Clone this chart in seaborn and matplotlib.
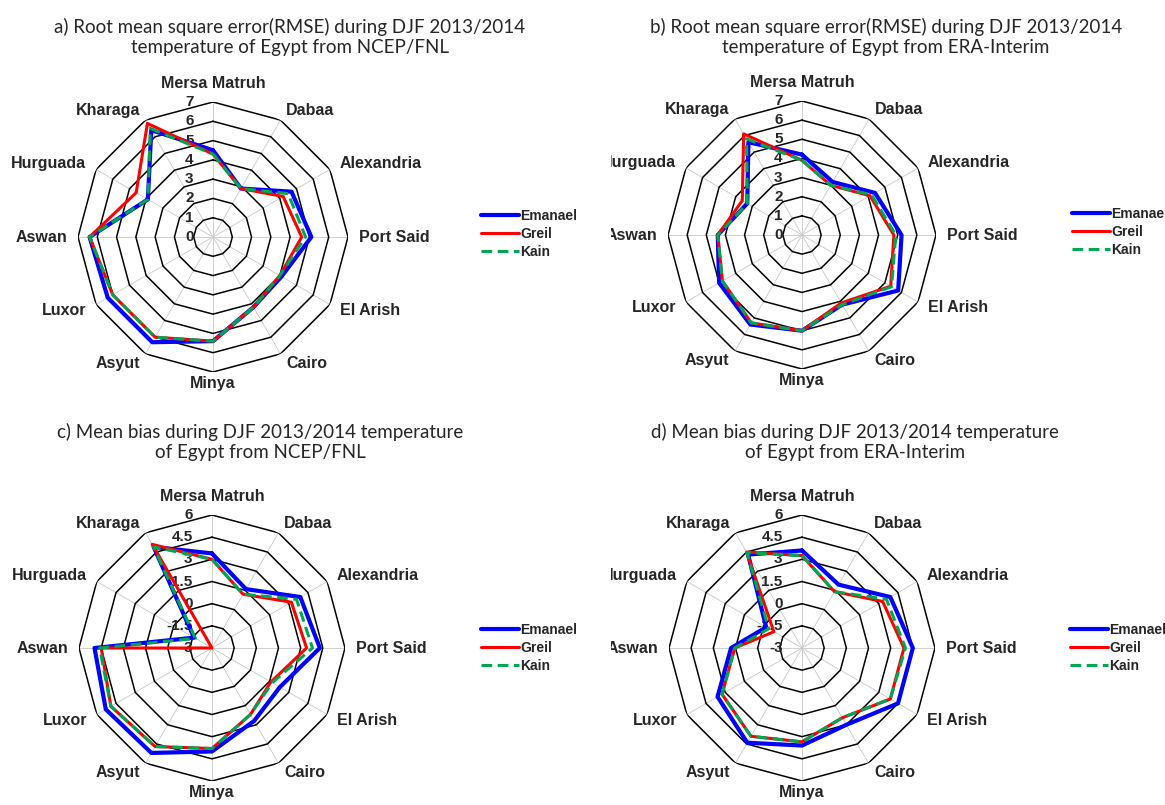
import numpy as np
import pandas as pd
import matplotlib
matplotlib.use('Agg')
import matplotlib.pyplot as plt
from matplotlib.transforms import offset_copy, Bbox, TransformedBbox
from matplotlib.lines import Line2D
import seaborn as sns

# stations, clockwise from the top
stations = ['Mersa Matruh', 'Dabaa', 'Alexandria', 'Port Said', 'El Arish', 'Cairo',
            'Minya', 'Asyut', 'Luxor', 'Aswan', 'Hurguada', 'Kharaga']
models = ['Emanael', 'Greil', 'Kain']

# a) RMSE from NCEP/FNL
rmse_fnl_emanael = [4.5, 2.9, 4.7, 5.1, 4.1, 4.2, 5.4, 6.3, 6.3, 6.4, 3.9, 6.4]
rmse_fnl_greil = [4.3, 2.9, 4.2, 4.6, 4.0, 4.2, 5.4, 6.0, 6.0, 6.4, 4.6, 6.8]
rmse_fnl_kain = [4.3, 2.9, 4.5, 4.8, 4.0, 4.2, 5.4, 6.0, 6.0, 6.4, 3.9, 6.5]

# b) RMSE from ERA-Interim
rmse_era_emanael = [4.2, 3.2, 4.4, 5.2, 5.8, 4.2, 5.0, 5.4, 5.0, 4.4, 3.3, 5.6]
rmse_era_greil = [3.9, 3.0, 4.1, 4.8, 5.35, 4.1, 5.0, 5.3, 4.8, 4.4, 3.6, 6.1]
rmse_era_kain = [3.9, 3.0, 4.2, 4.9, 5.4, 4.2, 5.0, 5.3, 4.8, 4.4, 3.3, 5.8]

# c) mean bias from NCEP/FNL
bias_fnl_emanael = [3.4, 1.6, 3.9, 4.3, 2.3, 2.7, 4.0, 5.2, 5.3, 4.95, -1.6, 4.9]
bias_fnl_greil = [3.0, 1.2, 3.2, 3.4, 1.6, 2.2, 3.8, 4.7, 4.9, 4.5, -3.0, 5.1]
bias_fnl_kain = [3.0, 1.2, 3.6, 3.8, 1.7, 2.2, 3.8, 4.7, 4.9, 4.6, -1.7, 4.9]

# d) mean bias from ERA-Interim
bias_era_emanael = [3.6, 1.95, 3.9, 4.5, 4.5, 3.0, 3.6, 4.4, 3.6, 1.8, -0.2, 4.3]
bias_era_greil = [3.25, 1.4, 3.3, 3.9, 3.9, 2.45, 3.35, 3.9, 3.25, 1.55, -0.8, 4.5]
bias_era_kain = [3.25, 1.4, 3.6, 4.0, 3.9, 2.45, 3.35, 3.9, 3.25, 1.55, -0.4, 4.45]

rmse_ticks = [0, 1, 2, 3, 4, 5, 6, 7]
rmse_labels = ['0', '1', '2', '3', '4', '5', '6', '7']
bias_ticks = [-3, -1.5, 0, 1.5, 3, 4.5, 6]
bias_labels = ['-3', '-1.5', '0', '1.5', '3', '4.5', '6']

title_a = 'a) Root mean square error(RMSE) during DJF 2013/2014\ntemperature of Egypt from NCEP/FNL'
title_b = 'b) Root mean square error(RMSE) during DJF 2013/2014\ntemperature of Egypt from ERA-Interim'
title_c = 'c) Mean bias during DJF 2013/2014 temperature\nof Egypt from NCEP/FNL'
title_d = 'd) Mean bias during DJF 2013/2014 temperature\nof Egypt from ERA-Interim'

colors = {'Emanael': '#0000FF', 'Greil': '#FF0000', 'Kain': '#00A651'}
widths = {'Emanael': 3.0, 'Greil': 2.2, 'Kain': 2.2}
dashes = {'Emanael': '', 'Greil': '', 'Kain': (3.5, 1.8)}

sns.set_style('white')
plt.rcParams['font.family'] = ['Liberation Sans', 'DejaVu Sans']

W, H = 1165, 805
fig = plt.figure(figsize=(W / 100, H / 100), dpi=100)
fig.patch.set_facecolor('white')


def radar(cx, cy, R, ticks, tick_labels, series, title, tx, ty, leg_x, leg_y, clip_x=None):
    ax = fig.add_axes([(cx - R) / W, 1 - (cy + R) / H, 2 * R / W, 2 * R / H], projection='polar')
    ax.set_theta_zero_location('N')
    ax.set_theta_direction(-1)
    ax.patch.set_alpha(0)
    rmin, rmax = ticks[0], ticks[-1]

    ang = np.linspace(0, 2 * np.pi, len(stations), endpoint=False)
    loop = np.append(ang, 2 * np.pi)

    # spokes and polygon rings
    for a in ang:
        ax.plot([a, a], [rmin, rmax], color='#c8c8c8', lw=0.6, zorder=1)
    for t in ticks[1:]:
        ax.plot(loop, [t] * len(loop), color='black', lw=1.1, zorder=1)

    # value axis labels
    off = offset_copy(ax.transData, fig=fig, x=-14, y=0, units='points')
    for t, lab in zip(ticks, tick_labels):
        ax.text(0, t, lab, transform=off, ha='right', va='center', fontsize=11,
                fontweight='bold', zorder=1.5)

    rows = []
    for m, vals in zip(models, series):
        for a, v in zip(loop, list(vals) + [vals[0]]):
            rows.append((m, a, v))
    df = pd.DataFrame(rows, columns=['model', 'angle', 'value'])
    sns.lineplot(data=df, x='angle', y='value', hue='model', style='model', size='model',
                 palette=colors, sizes=widths, dashes=dashes, sort=False, estimator=None,
                 legend=False, ax=ax, zorder=3)

    ax.set_ylim(rmin, rmax)
    ax.set_xticks([])
    ax.set_yticks([])
    ax.grid(False)
    ax.spines['polar'].set_visible(False)
    ax.set_xlabel('')
    ax.set_ylabel('')

    # station labels around the outer ring
    clip_box = None
    if clip_x is not None:
        clip_box = TransformedBbox(Bbox([[clip_x / W, 0], [1, 1]]), fig.transFigure)
    for a, name in zip(ang, stations):
        sx, sy = np.sin(a), np.cos(a)
        d = 3 if sy < -0.9 else 8
        tr = offset_copy(ax.transData, fig=fig, x=d * sx, y=d * sy, units='points')
        ha = 'left' if sx > 0.2 else ('right' if sx < -0.2 else 'center')
        va = 'bottom' if sy > 0.9 else ('top' if sy < -0.9 else 'center')
        txt = ax.text(a, rmax, name, transform=tr, ha=ha, va=va, fontsize=11.5,
                      fontweight='bold')
        if clip_box is not None:
            txt.set_clip_box(clip_box)
            txt.set_clip_path(None)
            txt.set_clip_on(True)

    fig.text(tx / W, 1 - ty / H, title, ha='center', va='center', fontsize=13.5,
             family=['Lato', 'DejaVu Sans'], linespacing=1.25, color='#262626')

    handles = []
    for m in models:
        h = Line2D([], [], color=colors[m], lw=widths[m])
        if dashes[m]:
            h.set_dashes(dashes[m])
        handles.append(h)
    fig.legend(handles, models, loc='center left', bbox_to_anchor=(leg_x / W, 1 - leg_y / H),
               frameon=False, borderpad=0, borderaxespad=0, handlelength=2.7,
               handletextpad=0.1, labelspacing=0.3, prop={'size': 10, 'weight': 'bold'})


radar(213, 237, 135, rmse_ticks, rmse_labels,
      [rmse_fnl_emanael, rmse_fnl_greil, rmse_fnl_kain], title_a, 290, 37, 481, 234)
radar(802, 235, 134, rmse_ticks, rmse_labels,
      [rmse_era_emanael, rmse_era_greil, rmse_era_kain], title_b, 886, 37, 1072, 232, clip_x=611)
radar(212, 648, 133, bias_ticks, bias_labels,
      [bias_fnl_emanael, bias_fnl_greil, bias_fnl_kain], title_c, 260, 442, 481, 648)
radar(802, 648, 133, bias_ticks, bias_labels,
      [bias_era_emanael, bias_era_greil, bias_era_kain], title_d, 855, 442, 1070, 648, clip_x=611)

fig.savefig('out.png', dpi=100, facecolor='white')
